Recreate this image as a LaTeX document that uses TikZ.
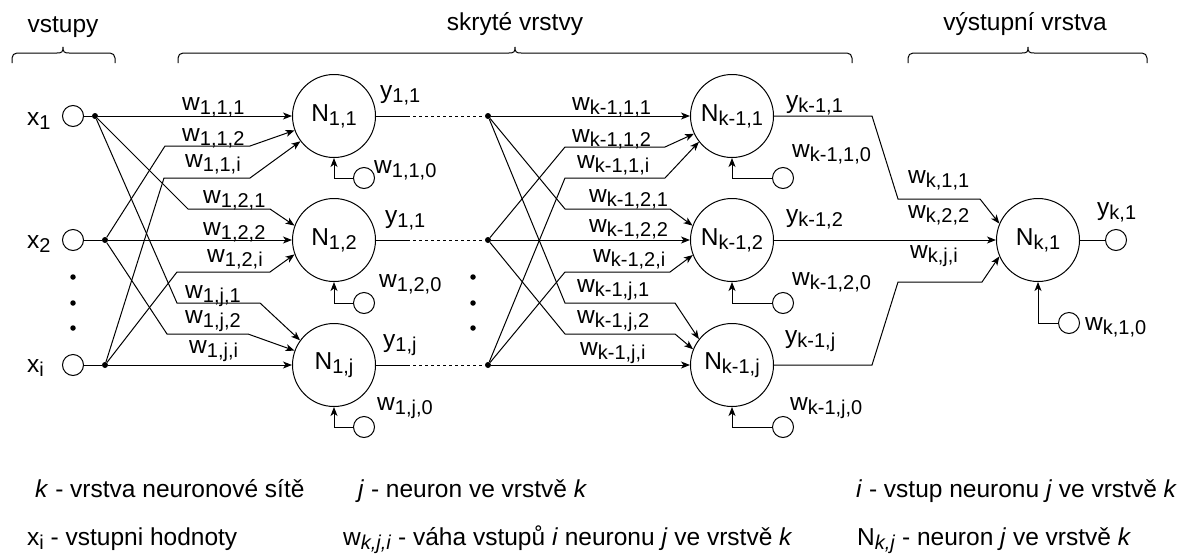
\documentclass[tikz,border=0pt]{standalone}
\usepackage{fontspec}
\setmainfont{Liberation Sans}
\usetikzlibrary{arrows.meta}
\newcommand\lab{\fontsize{24.5}{28}\selectfont}
\newcommand\mysub[1]{\raisebox{-4pt}{\fontsize{20}{20}\selectfont #1}}
\begin{document}
\begin{tikzpicture}[x=1pt,y=-1pt,
  wire/.style={line width=1pt, draw=black},
  conn/.style={wire, -{Stealth[length=9pt,width=7pt,inset=2.5pt]}},
  neuron/.style={circle, draw, line width=1pt, minimum size=83pt, inner sep=0pt, font=\lab},
  port/.style={circle, draw, line width=1pt, minimum size=21pt, inner sep=0pt},
  jdot/.style={circle, fill, minimum size=6pt, inner sep=0pt},
  vdot/.style={circle, fill, minimum size=5.5pt, inner sep=0pt},
  lbl/.style={anchor=base west, inner sep=0pt, font=\lab},
  head/.style={anchor=base, inner sep=0pt, font=\lab},
  dash1/.style={wire, dash pattern=on 3pt off 3pt},
]
\path[use as bounding box] (0,0) rectangle (1185,554);

% headings and braces
\node[head] (h1) at (63,32) {vstupy};
\node[head] (h2) at (515,30) {skryté vrstvy};
\node[head] (h3) at (1025,30) {výstupní vrstva};
\foreach \l/\m/\r in {12/63/115, 178/515/852, 908/1028/1147}{
  \draw[wire, rounded corners=5pt] (\l,63) |- ({\m-6},53);
  \draw[wire] ({\m-6},53) .. controls ({\m-1},53) and (\m,52) .. (\m,47)
              .. controls (\m,52) and ({\m+1},53) .. ({\m+6},53);
  \draw[wire, rounded corners=5pt] ({\m+6},53) -| (\r,63);
}

% inputs
\node[port] (x1) at (73,116) {};
\node[port] (x2) at (73,240) {};
\node[port] (xi) at (73,365) {};
\node[lbl] (lx1) at (27,125) {x\mysub{1}};
\node[lbl] (lx2) at (27,248) {x\mysub{2}};
\node[lbl] (lxi) at (27,372) {x\mysub{i}};
\node[vdot] (v1) at (73,277) {};
\node[vdot] (v2) at (73,303) {};
\node[vdot] (v3) at (73,328) {};
\node[jdot] (j1) at (95,116) {};
\node[jdot] (j2) at (105,240) {};
\node[jdot] (ji) at (105,365) {};
\draw[wire] (x1) -- (j1);
\draw[wire] (x2) -- (j2);
\draw[wire] (xi) -- (ji);

% layer 1
\node[neuron] (N11) at (334,116) {N\mysub{1,1}};
\node[neuron] (N12) at (334,240) {N\mysub{1,2}};
\node[neuron] (N1j) at (334,365) {N\mysub{1,j}};
\node[port] (b11) at (364,178) {};
\node[port] (b12) at (364,303) {};
\node[port] (b1j) at (364,427) {};
\draw[conn] (b11) -| (N11);
\draw[conn] (b12) -| (N12);
\draw[conn] (b1j) -| (N1j);

\draw[conn] (j1) -- (N11);
\draw[conn] (j2) -- (165,146) -- (250,146) -- (N11.200);
\draw[conn] (ji) -- (164,178) -- (250,178) -- (N11.217);
\draw[conn] (j1) -- (188,209) -- (270,209) -- (N12.160);
\draw[conn] (j2) -- (N12);
\draw[conn] (ji) -- (177,272) -- (270,272) -- (N12.200);
\draw[conn] (j1) -- (177,303) -- (260,303) -- (N1j.144);
\draw[conn] (j2) -- (167,334) -- (248,334) -- (N1j.160);
\draw[conn] (ji) -- (N1j);

\node[lbl] (a1) at (182,110) {w\mysub{1,1,1}};
\node[lbl] (a2) at (182,141) {w\mysub{1,1,2}};
\node[lbl] (a3) at (185,167) {w\mysub{1,1,i}};
\node[lbl] (a4) at (203,203) {w\mysub{1,2,1}};
\node[lbl] (a5) at (203,235) {w\mysub{1,2,2}};
\node[lbl] (a6) at (207,262) {w\mysub{1,2,i}};
\node[lbl] (a7) at (185,298) {w\mysub{1,j,1}};
\node[lbl] (a8) at (185,323) {w\mysub{1,j,2}};
\node[lbl] (a9) at (189,353) {w\mysub{1,j,i}};

\node[lbl] (o1) at (380,98) {y\mysub{1,1}};
\node[lbl] (o2) at (385,223) {y\mysub{1,1}};
\node[lbl] (o3) at (383,347) {y\mysub{1,j}};
\node[lbl] (c1) at (374,173) {w\mysub{1,1,0}};
\node[lbl] (c2) at (379,287) {w\mysub{1,2,0}};
\node[lbl] (c3) at (377,410) {w\mysub{1,j,0}};

% junctions of layer k-1
\node[jdot] (m1) at (488,116) {};
\node[jdot] (m2) at (488,240) {};
\node[jdot] (mi) at (488,365) {};
\draw[wire] (N11) -- (407,116) coordinate (d1);
\draw[dash1] (d1) -- (m1);
\draw[wire] (N12) -- (407,240) coordinate (d2);
\draw[dash1] (d2) -- (m2);
\draw[wire] (N1j) -- (407,365) coordinate (d3);
\draw[dash1] (d3) -- (mi);
\node[vdot] (u1) at (473,277) {};
\node[vdot] (u2) at (473,303) {};
\node[vdot] (u3) at (473,328) {};

% layer k-1
\node[neuron] (K1) at (732,116) {N\mysub{k-1,1}};
\node[neuron] (K2) at (732,240) {N\mysub{k-1,2}};
\node[neuron] (Kj) at (732,365) {N\mysub{k-1,j}};
\node[port] (bk1) at (783,178) {};
\node[port] (bk2) at (783,303) {};
\node[port] (bkj) at (783,427) {};
\draw[conn] (bk1) -| (K1);
\draw[conn] (bk2) -| (K2);
\draw[conn] (bkj) -| (Kj);

\draw[conn] (m1) -- (K1);
\draw[conn] (m2) -- (565,147) -- (665,147) -- (K1.205);
\draw[conn] (mi) -- (565,178) -- (665,178) -- (K1.218);
\draw[conn] (m1) -- (565,209) -- (670,209) -- (K2.160);
\draw[conn] (m2) -- (K2);
\draw[conn] (mi) -- (565,272) -- (670,272) -- (K2.201);
\draw[conn] (m1) -- (565,303) -- (675,303) -- (Kj.142);
\draw[conn] (m2) -- (565,334) -- (675,334) -- (Kj.158);
\draw[conn] (mi) -- (Kj);

\node[lbl] (e1) at (572,110) {w\mysub{k-1,1,1}};
\node[lbl] (e2) at (572,142) {w\mysub{k-1,1,2}};
\node[lbl] (e3) at (577,168) {w\mysub{k-1,1,i}};
\node[lbl] (e4) at (589,202) {w\mysub{k-1,2,1}};
\node[lbl] (e5) at (589,232) {w\mysub{k-1,2,2}};
\node[lbl] (e6) at (593,262) {w\mysub{k-1,2,i}};
\node[lbl] (e7) at (577,292) {w\mysub{k-1,j,1}};
\node[lbl] (e8) at (577,323) {w\mysub{k-1,j,2}};
\node[lbl] (e9) at (580,355) {w\mysub{k-1,j,i}};

\node[lbl] (p1) at (786,108) {y\mysub{k-1,1}};
\node[lbl] (p2) at (786,222) {y\mysub{k-1,2}};
\node[lbl] (p3) at (785,343) {y\mysub{k-1,j}};
\node[lbl] (q1) at (792,157) {w\mysub{k-1,1,0}};
\node[lbl] (q2) at (792,285) {w\mysub{k-1,2,0}};
\node[lbl] (q3) at (790,410) {w\mysub{k-1,j,0}};

% output layer
\node[neuron] (NO) at (1038,240) {N\mysub{k,1}};
\node[port] (yo) at (1116,240) {};
\node[port] (bo) at (1069,323) {};
\draw[wire] (NO) -- (yo);
\draw[conn] (bo) -| (NO);
\draw[conn] (K1) -- (872,116) -- (898,199) -- (980,199) -- (NO.157);
\draw[conn] (K2) -- (NO);
\draw[conn] (Kj) -- (872,365) -- (898,282) -- (982,282) -- (NO.203);
\node[lbl] (f1) at (908,183) {w\mysub{k,1,1}};
\node[lbl] (f2) at (908,218) {w\mysub{k,2,2}};
\node[lbl] (f3) at (910,258) {w\mysub{k,j,i}};
\node[lbl] (yk) at (1097,215) {y\mysub{k,1}};
\node[lbl] (wk0) at (1085,330) {w\mysub{k,1,0}};

% legend
\node[lbl] (g1) at (35,497) {\textit{k} - vrstva neuronové sítě};
\node[lbl] (g2) at (358,497) {\textit{j} - neuron ve vrstvě \textit{k}};
\node[lbl] (g3) at (856,497) {\textit{i} - vstup neuronu \textit{j} ve vrstvě \textit{k}};
\node[lbl] (g4) at (27,545) {x\mysub{i} - vstupni hodnoty};
\node[lbl] (g5) at (343,545) {w\mysub{\textit{k,j,i}} - váha vstupů \textit{i} neuronu \textit{j} ve vrstvě \textit{k}};
\node[lbl] (g6) at (857,545) {N\mysub{\textit{k,j}} - neuron \textit{j} ve vrstvě \textit{k}};
\end{tikzpicture}
\end{document}
